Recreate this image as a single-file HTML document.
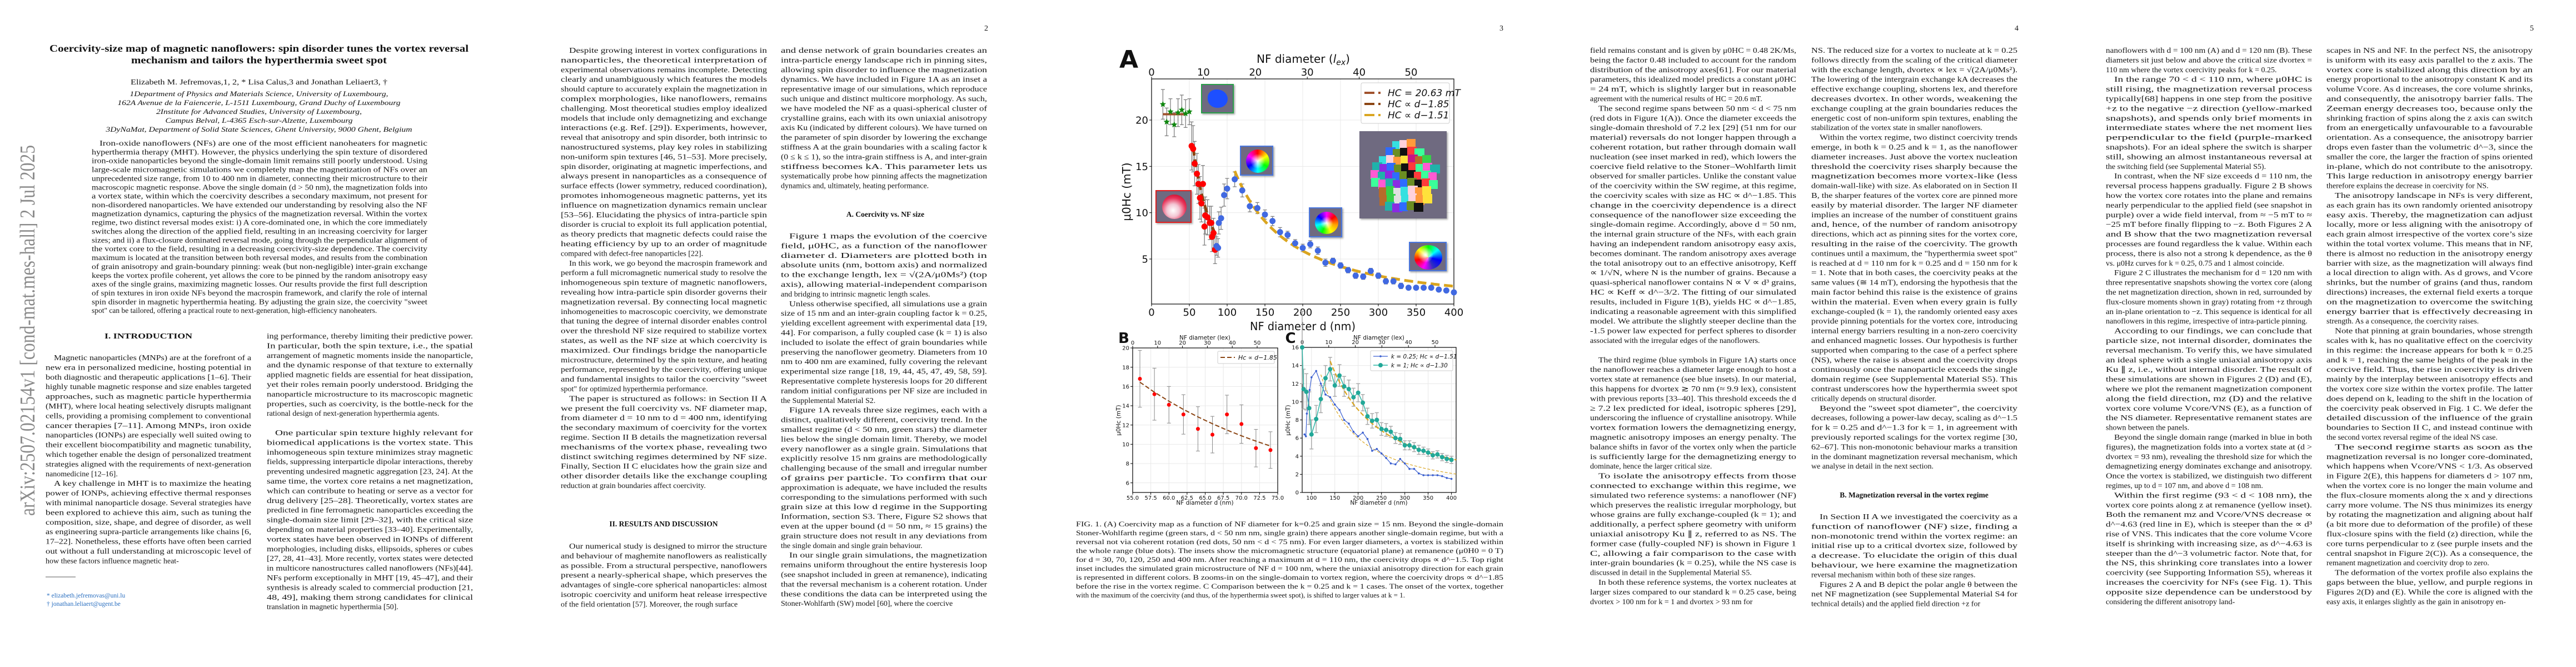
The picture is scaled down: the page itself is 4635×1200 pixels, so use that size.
<!DOCTYPE html>
<html><head><meta charset="utf-8">
<style>
html,body{margin:0;padding:0;background:#fff;}
#page{position:relative;width:4635px;height:1200px;overflow:hidden;background:#fff;}
#root{position:absolute;left:0;top:0;}
.inset{position:absolute;box-sizing:border-box;background:#6f6a80;overflow:hidden;box-shadow:2px 2px 3px rgba(0,0,0,0.35);}
.blob{position:absolute;border-radius:50%;}
</style></head>
<body>
<div id="page">
<svg id="root" width="4635" height="1200" xmlns="http://www.w3.org/2000/svg">
  <g id="text-layer"></g>
  <g id="fig"></g>
</svg>

<!-- insets in panel A -->
<div class="inset" style="left:2161px;top:151px;width:59px;height:53px;border:2px solid #2aa04a;">
  <div class="blob" style="left:10px;top:8px;width:36px;height:33px;background:#1d4fff;border-radius:45% 55% 50% 50%;"></div>
</div>
<div class="inset" style="left:2079px;top:342px;width:65px;height:59px;border:2px solid #e01e1e;">
  <div class="blob" style="left:10px;top:6px;width:44px;height:44px;background:radial-gradient(circle at 45% 65%,#fff 0,#f3c6d4 30%,#e8345a 60%,#d01030 80%);"></div>
</div>
<div class="inset" style="left:2231px;top:262px;width:60px;height:54px;border:2px solid #4a78e0;">
  <div class="blob" style="left:9px;top:5px;width:42px;height:42px;background:radial-gradient(circle,#fff 0,rgba(255,255,255,0) 45%),conic-gradient(red,yellow,lime,cyan,blue,magenta,red);"></div>
</div>
<div class="inset" style="left:2355px;top:373px;width:60px;height:54px;border:2px solid #4a78e0;">
  <div class="blob" style="left:9px;top:6px;width:42px;height:40px;background:radial-gradient(circle,#fff 0,rgba(255,255,255,0) 40%),conic-gradient(magenta,red,orange,yellow,lime,cyan,blue,magenta);"></div>
</div>
<div class="inset" style="left:2535px;top:435px;width:68px;height:53px;border:2px solid #4a78e0;">
  <div class="blob" style="left:8px;top:4px;width:50px;height:44px;background:radial-gradient(circle at 40% 40%,#fff 0,rgba(255,255,255,0) 35%),conic-gradient(lime,cyan,blue,#3030c0,magenta,red,yellow,lime);"></div>
</div>
<div class="inset" id="grain-inset" style="left:2446px;top:236px;width:157px;height:157px;"></div>
</div>

<script>
const NS='http://www.w3.org/2000/svg';
const root=document.getElementById('root');
const textLayer=document.getElementById('text-layer');
const fig=document.getElementById('fig');
const cv=document.createElement('canvas');
const ctx=cv.getContext('2d');

function mk(tag,attrs,parent){
  const el=document.createElementNS(NS,tag);
  for(const k in attrs){el.setAttribute(k,attrs[k]);}
  (parent||root).appendChild(el);
  return el;
}
function txt(parent,x,y,s,size,opts,name){
  opts=opts||{};
  const el=mk('text',{x:x,y:y,'font-size':size,'font-family':opts.family||'"Liberation Serif", serif',fill:opts.fill||'#111'},parent);
  if(opts.anchor){el.setAttribute('text-anchor',opts.anchor);}
  if(opts.weight){el.setAttribute('font-weight',opts.weight);}
  if(opts.style){el.setAttribute('font-style',opts.style);}
  if(opts.len){el.setAttribute('textLength',opts.len);el.setAttribute('lengthAdjust','spacingAndGlyphs');}
  if(opts.transform){el.setAttribute('transform',opts.transform);}
  el.textContent=s;
  
  
  return el;
}

/* ---------- paragraph layout ---------- */
const FS=14, PITCH=17.4;
function greedy(ws,sp,W,indent){
  const lines=[];let cur=[];let cw=0;
  for(let i=0;i<ws.length;i++){
    const cap=lines.length===0?W-indent:W;
    const add=cur.length?sp+ws[i]:ws[i];
    if(cur.length&&cw+add>cap){lines.push(cur);cur=[i];cw=ws[i];}
    else{cur.push(i);cw+=add;}
  }
  if(cur.length)lines.push(cur);
  return lines;
}
function para(x,y,w,text,n,indent,fs,pitch,name){
  fs=fs||FS;pitch=pitch||PITCH;
  const words=text.split(/\s+/).filter(s=>s.length);
  ctx.font=fs+'px "Liberation Serif"';
  const ws=words.map(s=>ctx.measureText(s).width);
  const sp=ctx.measureText(' ').width;
  let lo=5,hi=200000;
  for(let k=0;k<50;k++){const mid=(lo+hi)/2;if(greedy(ws,sp,mid,indent).length<=n)hi=mid;else lo=mid;}
  const lines=greedy(ws,sp,hi,indent);
  const g=mk('g',{},textLayer);
  
  
  lines.forEach((ln,i)=>{
    const s=ln.map(j=>words[j]).join(' ');
    const ind=i===0?indent:0;
    const el=mk('text',{x:x+ind,y:(y+i*pitch).toFixed(1),'font-size':fs,'font-family':'"Liberation Serif", serif',fill:'#161616'},g);
    const nat=ctx.measureText(s).width;
    if(i<lines.length-1||nat>w-ind){el.setAttribute('textLength',(w-ind).toFixed(1));el.setAttribute('lengthAdjust','spacingAndGlyphs');}
    el.textContent=s;
    
    
  });
  return y+n*pitch;
}
function heading(cx,y,s,fs,name){
  return txt(textLayer,cx,y,s,fs||13.5,{anchor:'middle',weight:'bold'},name||'section-heading');
}
function flow(x,y,w,blocks,nameBase){
  let cy=y;
  blocks.forEach((b,i)=>{cy=para(x,cy,w,b[1],b[0],b.length>2?b[2]:15,FS,PITCH,nameBase+'-p'+(i+1));});
  return cy;
}
const CW=371;

/* ================= PAGE 1 ================= */
txt(textLayer,62,928,'arXiv:2507.02154v1  [cond-mat.mes-hall]  2 Jul 2025',38,{fill:'#8a8a8a',len:667,transform:'rotate(-90 62 928)'},'arxiv-stamp');
txt(textLayer,466,93,'Coercivity-size map of magnetic nanoflowers: spin disorder tunes the vortex reversal',18,{anchor:'middle',weight:'bold',len:754},'paper-title-line-1');
txt(textLayer,466,114,'mechanism and tailors the hyperthermia sweet spot',18,{anchor:'middle',weight:'bold',len:460},'paper-title-line-2');
txt(textLayer,466,152,'Elizabeth M. Jefremovas,1, 2, * Lisa Calus,3 and Jonathan Leliaert3, †',14,{anchor:'middle',len:462},'authors');
const aff=[[173,'1Department of Physics and Materials Science, University of Luxembourg,',465],
 [189,'162A Avenue de la Faiencerie, L-1511 Luxembourg, Grand Duchy of Luxembourg',509],
 [205,'2Institute for Advanced Studies, University of Luxembourg,',370],
 [221,'Campus Belval, L-4365 Esch-sur-Alzette, Luxembourg',337],
 [237,'3DyNaMat, Department of Solid State Sciences, Ghent University, 9000 Ghent, Belgium',551]];
aff.forEach((a,i)=>txt(textLayer,466,a[0],a[1],13,{anchor:'middle',style:'italic',len:a[2]},'affiliation-'+(i+1)));
para(165,262,604,'Iron-oxide nanoflowers (NFs) are one of the most efficient nanoheaters for magnetic hyperthermia therapy (MHT). However, the physics underlying the spin texture of disordered iron-oxide nanoparticles beyond the single-domain limit remains still poorly understood. Using large-scale micromagnetic simulations we completely map the magnetization of NFs over an unprecedented size range, from 10 to 400 nm in diameter, connecting their microstructure to their macroscopic magnetic response. Above the single domain (d > 50 nm), the magnetization folds into a vortex state, within which the coercivity describes a secondary maximum, not present for non-disordered nanoparticles. We have extended our understanding by resolving also the NF magnetization dynamics, capturing the physics of the magnetization reversal. Within the vortex regime, two distinct reversal modes exist: i) A core-dominated one, in which the core immediately switches along the direction of the applied field, resulting in an increasing coercivity for larger sizes; and ii) a flux-closure dominated reversal mode, going through the perpendicular alignment of the vortex core to the field, resulting in a decreasing coercivity-size dependence. The coercivity maximum is located at the transition between both reversal modes, and results from the combination of grain anisotropy and grain-boundary pinning: weak (but non-negligible) inter-grain exchange keeps the vortex profile coherent, yet allows the core to be pinned by the random anisotropy easy axes of the single grains, maximizing magnetic losses. Our results provide the first full description of spin textures in iron oxide NFs beyond the macrospin framework, and clarify the role of internal spin disorder in magnetic hyperthermia heating. By adjusting the grain size, the coercivity "sweet spot" can be tailored, offering a practical route to next-generation, high-efficiency nanoheaters.',20,14,13.5,15.85,'abstract');
txt(textLayer,267,609,'I.   INTRODUCTION',13.5,{anchor:'middle',weight:'bold',len:158},'heading-introduction');
flow(82,648,370,[
 [13,'Magnetic nanoparticles (MNPs) are at the forefront of a new era in personalized medicine, hosting potential in both diagnostic and therapeutic applications [1–6]. Their highly tunable magnetic response and size enables targeted approaches, such as magnetic particle hyperthermia (MHT), where local heating selectively disrupts malignant cells, providing a promising complement to conventional cancer therapies [7–11]. Among MNPs, iron oxide nanoparticles (IONPs) are especially well suited owing to their excellent biocompatibility and magnetic tunability, which together enable the design of personalized treatment strategies aligned with the requirements of next-generation nanomedicine [12–16].'],
 [9,'A key challenge in MHT is to maximize the heating power of IONPs, achieving effective thermal responses with minimal nanoparticle dosage. Several strategies have been explored to achieve this aim, such as tuning the composition, size, shape, and degree of disorder, as well as engineering supra-particle arrangements like chains [6, 17–22]. Nonetheless, these efforts have often been carried out without a full understanding at microscopic level of how these factors influence magnetic heat-']
],'p1-left');
flow(480,609,CW,[
 [9,'ing performance, thereby limiting their predictive power. In particular, both the spin texture, i.e., the spatial arrangement of magnetic moments inside the nanoparticle, and the dynamic response of that texture to externally applied magnetic fields are essential for heat dissipation, yet their roles remain poorly understood. Bridging the nanoparticle microstructure to its macroscopic magnetic properties, such as coercivity, is the bottle-neck for the rational design of next-generation hyperthermia agents.',0]
],'p1-right-a');
flow(480,783,CW,[
 [19,'One particular spin texture highly relevant for biomedical applications is the vortex state. This inhomogeneous spin texture minimizes stray magnetic fields, suppressing interparticle dipolar interactions, thereby preventing undesired magnetic aggregation [23, 24]. At the same time, the vortex core retains a net magnetization, which can contribute to heating or serve as a vector for drug delivery [25–28]. Theoretically, vortex states are predicted in fine ferromagnetic nanoparticles exceeding the single-domain size limit [29–32], with the critical size depending on material properties [33–40]. Experimentally, vortex states have been observed in IONPs of different morphologies, including disks, ellipsoids, spheres or cubes [27, 28, 41–43]. More recently, vortex states were detected in multicore nanostructures called nanoflowers (NFs)[44]. NFs perform exceptionally in MHT [19, 45–47], and their synthesis is already scaled to commercial production [21, 48, 49], making them strong candidates for clinical translation in magnetic hyperthermia [50].']
],'p1-right-b');
(function(){const l=mk('line',{x1:82,y1:1038,x2:136,y2:1038,stroke:'#222','stroke-width':0.8},textLayer);

})();
txt(textLayer,84,1075,'* elizabeth.jefremovas@uni.lu',11.5,{fill:'#2a6fc0'},'footnote-email-1');
txt(textLayer,84,1090,'† jonathan.leliaert@ugent.be',11.5,{fill:'#2a6fc0'},'footnote-email-2');

/* ================= PAGE 2 ================= */
txt(textLayer,1778,55,'2',14,{anchor:'end'},'page-number-2');
flow(1009,95,CW,[
 [22,'Despite growing interest in vortex configurations in nanoparticles, the theoretical interpretation of experimental observations remains incomplete. Detecting clearly and unambiguously which features the models should capture to accurately explain the magnetization in complex morphologies, like nanoflowers, remains challenging. Most theoretical studies employ idealized models that include only demagnetizing and exchange interactions (e.g. Ref. [29]). Experiments, however, reveal that anisotropy and spin disorder, both intrinsic to nanostructured systems, play key roles in stabilizing non-uniform spin textures [46, 51–53]. More precisely, spin disorder, originating at magnetic imperfections, and always present in nanoparticles as a consequence of surface effects (lower symmetry, reduced coordination), promotes inhomogeneous magnetic patterns, yet its influence on magnetization dynamics remain unclear [53–56]. Elucidating the physics of intra-particle spin disorder is crucial to exploit its full application potential, as theory predicts that magnetic defects could raise the heating efficiency by up to an order of magnitude compared with defect-free nanoparticles [22].'],
 [14,'In this work, we go beyond the macrospin framework and perform a full micromagnetic numerical study to resolve the inhomogeneous spin texture of magnetic nanoflowers, revealing how intra-particle spin disorder governs their magnetization reversal. By connecting local magnetic inhomogeneities to macroscopic coercivity, we demonstrate that tuning the degree of internal disorder enables control over the threshold NF size required to stabilize vortex states, as well as the NF size at which coercivity is maximized. Our findings bridge the nanoparticle microstructure, determined by the spin texture, and heating performance, represented by the coercivity, offering unique and fundamental insights to tailor the coercivity "sweet spot" for optimized hyperthermia performance.'],
 [10,'The paper is structured as follows: in Section II A we present the full coercivity vs. NF diameter map, from diameter d = 10 nm to d = 400 nm, identifying the secondary maximum of coercivity for the vortex regime. Section II B details the magnetization reversal mechanisms of the vortex phase, revealing two distinct switching regimes determined by NF size. Finally, Section II C elucidates how the grain size and other disorder details like the exchange coupling reduction at grain boundaries affect coercivity.']
],'p2-left');
heading(1194,947,'II.   RESULTS AND DISCUSSION',13.5,'heading-results');
flow(1009,987,CW,[
 [7,'Our numerical study is designed to mirror the structure and behaviour of maghemite nanoflowers as realistically as possible. From a structural perspective, nanoflowers present a nearly-spherical shape, which preserves the advantages of single-core spherical nanoparticles: almost isotropic coercivity and uniform heat release irrespective of the field orientation [57]. Moreover, the rough surface']
],'p2-left-b');
flow(1405,95,CW,[
 [15,'and dense network of grain boundaries creates an intra-particle energy landscape rich in pinning sites, allowing spin disorder to influence the magnetization dynamics. We have included in Figure 1A as an inset a representative image of our simulations, which reproduce such unique and distinct multicore morphology. As such, we have modeled the NF as a quasi-spherical cluster of crystalline grains, each with its own uniaxial anisotropy axis Ku (indicated by different colours). We have turned on the parameter of spin disorder by lowering the exchange stiffness A at the grain boundaries with a scaling factor k (0 ≤ k ≤ 1), so the intra-grain stiffness is A, and inter-grain stiffness becomes kA. This parameter lets us systematically probe how pinning affects the magnetization dynamics and, ultimately, heating performance.',0]
],'p2-right');
heading(1593,390,'A.   Coercivity vs. NF size',13.5,'heading-coercivity-vs-size');
flow(1405,429,CW,[
 [7,'Figure 1 maps the evolution of the coercive field, μ0HC, as a function of the nanoflower diameter d. Diameters are plotted both in absolute units (nm, bottom axis) and normalized to the exchange length, lex = √(2A/μ0Ms²) (top axis), allowing material-independent comparison and bridging to intrinsic magnetic length scales.'],
 [11,'Unless otherwise specified, all simulations use a grain size of 15 nm and an inter-grain coupling factor k = 0.25, yielding excellent agreement with experimental data [19, 44]. For comparison, a fully coupled case (k = 1) is also included to isolate the effect of grain boundaries while preserving the nanoflower geometry. Diameters from 10 nm to 400 nm are examined, fully covering the relevant experimental size range [18, 19, 44, 45, 47, 49, 58, 59]. Representative complete hysteresis loops for 20 different random initial configurations per NF size are included in the Supplemental Material S2.'],
 [15,'Figure 1A reveals three size regimes, each with a distinct, qualitatively different, coercivity trend. In the smallest regime (d < 50 nm, green stars) the diameter lies below the single domain limit. Thereby, we model every nanoflower as a single grain. Simulations that explicitly resolve 15 nm grains are methodologically challenging because of the small and irregular number of grains per particle. To confirm that our approximation is adequate, we have included the results corresponding to the simulations performed with such grain size at this low d regime in the Supporting Information, section S3. There, Figure S2 shows that even at the upper bound (d = 50 nm, ≈ 15 grains) the grain structure does not result in any deviations from the single domain and single grain behaviour.'],
 [6,'In our single grain simulations, the magnetization remains uniform throughout the entire hysteresis loop (see snapshot included in green at remanence), indicating that the reversal mechanism is a coherent rotation. Under these conditions the data can be interpreted using the Stoner-Wohlfarth (SW) model [60], where the coercive']
],'p2-right-b');

/* ================= PAGE 3 ================= */
txt(textLayer,2705,55,'3',14,{anchor:'end'},'page-number-3');
para(1936,947,769,'FIG. 1. (A) Coercivity map as a function of NF diameter for k=0.25 and grain size = 15 nm. Beyond the single-domain Stoner-Wohlfarth regime (green stars, d < 50 nm nm, single grain) there appears another single-domain regime, but with a reversal not via coherent rotation (red dots, 50 nm < d < 75 nm). For even larger diameters, a vortex is stabilized within the whole range (blue dots). The insets show the micromagnetic structure (equatorial plane) at remanence (μ0H0 = 0 T) for d = 30, 70, 120, 250 and 400 nm. After reaching a maximum at d = 110 nm, the coercivity drops ∝ d^−1.5. Top right inset includes the simulated grain microstructure of NF d = 100 nm, where the uniaxial anisotropy direction for each grain is represented in different colors. B zooms-in on the single-domain to vortex region, where the coercivity drops ∝ d^−1.85 before the rise in the vortex regime. C Comparison between the k = 0.25 and k = 1 cases. The onset of the vortex, together with the maximum of the coercivity (and thus, of the hyperthermia sweet spot), is shifted to larger values at k = 1.',9,0,13,16,'figure-caption');

/* ================= PAGE 4 ================= */
txt(textLayer,3632,55,'4',14,{anchor:'end'},'page-number-4');
flow(2861,95,CW,[
 [6,'field remains constant and is given by μ0HC = 0.48 2K/Ms, being the factor 0.48 included to account for the random distribution of the anisotropy axes[61]. For our material parameters, this idealized model predicts a constant μ0HC = 24 mT, which is slightly larger but in reasonable agreement with the numerical results of HC = 20.6 mT.',0],
 [25,'The second regime spans between 50 nm < d < 75 nm (red dots in Figure 1(A)). Once the diameter exceeds the single-domain threshold of 7.2 lex [29] (51 nm for our material) reversals do not longer happen through a coherent rotation, but rather through domain wall nucleation (see inset marked in red), which lowers the coercive field relative to the Stoner–Wohlfarth limit observed for smaller particles. Unlike the constant value of the coercivity within the SW regime, at this regime, the coercivity scales with size as HC ∝ d^−1.85. This change in the coercivity dependence is a direct consequence of the nanoflower size exceeding the single-domain regime. Accordingly, above d = 50 nm, the internal grain structure of the NFs, with each grain having an independent random anisotropy easy axis, becomes dominant. The random anisotropy axes average the total anisotropy out to an effective anisotropy, Keff ∝ 1/√N, where N is the number of grains. Because a quasi-spherical nanoflower contains N ∝ V ∝ d³ grains, HC ∝ Keff ∝ d^−3/2. The fitting of our simulated results, included in Figure 1(B), yields HC ∝ d^−1.85, indicating a reasonable agreement with this simplified model. We attribute the slightly steeper decline than the -1.5 power law expected for perfect spheres to disorder associated with the irregular edges of the nanoflowers.']
],'p4-left');
flow(2861,95+32*PITCH,CW,[
 [12,'The third regime (blue symbols in Figure 1A) starts once the nanoflower reaches a diameter large enough to host a vortex state at remanence (see blue insets). In our material, this happens for dvortex ≳ 70 nm (≈ 9.9 lex), consistent with previous reports [33–40]. This threshold exceeds the d ≥ 7.2 lex predicted for ideal, isotropic spheres [29], underscoring the influence of crystalline anisotropy. While vortex formation lowers the demagnetizing energy, magnetic anisotropy imposes an energy penalty. The balance shifts in favor of the vortex only when the particle is sufficiently large for the demagnetizing energy to dominate, hence the larger critical size.'],
 [11,'To isolate the anisotropy effects from those connected to exchange within this regime, we simulated two reference systems: a nanoflower (NF) which preserves the realistic irregular morphology, but whose grains are fully exchange-coupled (k = 1); and additionally, a perfect sphere geometry with uniform uniaxial anisotropy Ku ∥ z, referred to as NS. The former case (fully-coupled NF) is shown in Figure 1 C, allowing a fair comparison to the case with inter-grain boundaries (k = 0.25), while the NS case is discussed in detail in the Supplemental Material S5.'],
 [3,'In both these reference systems, the vortex nucleates at larger sizes compared to our standard k = 0.25 case, being dvortex > 100 nm for k = 1 and dvortex > 93 nm for']
],'p4-left-b');
flow(3259,95,CW,[
 [9,'NS. The reduced size for a vortex to nucleate at k = 0.25 follows directly from the scaling of the critical diameter with the exchange length, dvortex ∝ lex = √(2A/μ0Ms²). The lowering of the intergrain exchange kA decreases the effective exchange coupling, shortens lex, and therefore decreases dvortex. In other words, weakening the exchange coupling at the grain boundaries reduces the energetic cost of non-uniform spin textures, enabling the stabilization of the vortex state in smaller nanoflowers.',0],
 [28,'Within the vortex regime, two distinct coercivity trends emerge, in both k = 0.25 and k = 1, as the nanoflower diameter increases. Just above the vortex nucleation threshold the coercivity rises sharply because the magnetization becomes more vortex-like (less domain-wall-like) with size. As elaborated on in Section II B, the sharper features of the vortex core are pinned more easily by material disorder. The larger NF diameter implies an increase of the number of constituent grains and, hence, of the number of random anisotropy directions, which act as pinning sites for the vortex core, resulting in the raise of the coercivity. The growth continues until a maximum, the "hyperthermia sweet spot" is reached at d = 110 nm for k = 0.25 and d = 150 nm for k = 1. Note that in both cases, the coercivity peaks at the same values (≅ 14 mT), endorsing the hypothesis that the main factor behind this raise is the existence of grains within the material. Even when every grain is fully exchange-coupled (k = 1), the randomly oriented easy axes provide pinning potentials for the vortex core, introducing internal energy barriers resulting in a non-zero coercivity and enhanced magnetic losses. Our hypothesis is further supported when comparing to the case of a perfect sphere (NS), where the raise is absent and the coercivity drops continuously once the nanoparticle exceeds the single domain regime (see Supplemental Material S5). This contrast underscores how the hyperthermia sweet spot critically depends on structural disorder.'],
 [7,'Beyond the "sweet spot diameter", the coercivity decreases, following a power-law decay, scaling as d^−1.5 for k = 0.25 and d^−1.3 for k = 1, in agreement with previously reported scalings for the vortex regime [30, 62–67]. This non-monotonic behaviour marks a transition in the dominant magnetization reversal mechanism, which we analyse in detail in the next section.']
],'p4-right');
heading(3444,895,'B.   Magnetization reversal in the vortex regime',13.5,'heading-magnetization-reversal');
flow(3259,934,CW,[
 [7,'In Section II A we investigated the coercivity as a function of nanoflower (NF) size, finding a non-monotonic trend within the vortex regime: an initial rise up to a critical dvortex size, followed by a decrease. To elucidate the origin of this dual behaviour, we here examine the magnetization reversal mechanism within both of these size ranges.'],
 [3,'Figures 2 A and B depict the polar angle θ between the net NF magnetization (see Supplemental Material S4 for technical details) and the applied field direction +z for']
],'p4-right-b');

/* ================= PAGE 5 ================= */
txt(textLayer,4559,55,'5',14,{anchor:'end'},'page-number-5');
flow(3789,95,CW,[
 [3,'nanoflowers with d = 100 nm (A) and d = 120 nm (B). These diameters sit just below and above the critical size dvortex = 110 nm where the vortex coercivity peaks for k = 0.25.',0],
 [10,'In the range 70 < d < 110 nm, where μ0HC is still rising, the magnetization reversal process typically[68] happens in one step from the positive +z to the negative −z direction (yellow-marked snapshots), and spends only brief moments in intermediate states where the net moment lies perpendicular to the field (purple-marked snapshots). For an ideal sphere the switch is sharper still, showing an almost instantaneous reversal at the switching field (see Supplemental Material S5).'],
 [10,'In contrast, when the NF size exceeds d = 110 nm, the reversal process happens gradually. Figure 2 B shows how the vortex core rotates into the plane and remains nearly perpendicular to the applied field (see snapshot in purple) over a wide field interval, from ≈ −5 mT to ≈ −25 mT before finally flipping to −z. Both Figures 2 A and B show that the two magnetization reversal processes are found regardless the k value. Within each process, there is also not a strong k dependence, as the θ vs. μ0Hz curves for k = 0.25, 0.75 and 1 almost coincide.'],
 [6,'Figure 2 C illustrates the mechanism for d = 120 nm with three representative snapshots showing the vortex core (along the net magnetization direction, shown in red, surrounded by flux-closure moments shown in gray) rotating from +z through an in-plane orientation to −z. This sequence is identical for all nanoflowers in this regime, irrespective of intra-particle pinning.'],
 [11,'According to our findings, we can conclude that particle size, not internal disorder, dominates the reversal mechanism. To verify this, we have simulated an ideal sphere with a single uniaxial anisotropy axis Ku ∥ z, i.e., without internal disorder. The result of these simulations are shown in Figures 2 (D) and (E), where we plot the remanent magnetization component along the field direction, mz (D) and the relative vortex core volume Vcore/VNS (E), as a function of the NS diameter. Representative remanent states are shown between the panels.'],
 [6,'Beyond the single domain range (marked in blue in both figures), the magnetization folds into a vortex state at (d > dvortex = 93 nm), revealing the threshold size for which the demagnetizing energy dominates exchange and anisotropy. Once the vortex is stabilized, we distinguish two different regimes, up to d = 107 nm, and above d = 108 nm.'],
 [12,'Within the first regime (93 < d < 108 nm), the vortex core points along z at remanence (yellow inset). Both the remanent mz and Vcore/VNS decrease ∝ d^−4.63 (red line in E), which is steeper than the ∝ d³ rise of VNS. This indicates that the core volume Vcore itself is shrinking with increasing size, as d^−4.63 is steeper than the d^−3 volumetric factor. Note that, for the NS, this shrinking core translates into a lower coercivity (see Supporting Information S5), whereas it increases the coercivity for NFs (see Fig. 1). This opposite size dependence can be understood by considering the different anisotropy land-']
],'p5-left');
flow(4186,95,CW,[
 [15,'scapes in NS and NF. In the perfect NS, the anisotropy is uniform with its easy axis parallel to the z axis. The vortex core is stabilized along this direction by an energy proportional to the anisotropy constant K and its volume Vcore. As d increases, the core volume shrinks, and consequently, the anisotropy barrier falls. The Zeeman energy decreases too, because only the shrinking fraction of spins along the z axis can switch from an energetically unfavourable to a favourable orientation. As a consequence, the anisotropy barrier drops even faster than the volumetric d^−3, since the smaller the core, the larger the fraction of spins oriented in-plane, which do not contribute to the anisotropy. This large reduction in anisotropy energy barrier therefore explains the decrease in coercivity for NS.',0],
 [14,'The anisotropy landscape in NFs is very different, as each grain has its own randomly oriented anisotropy easy axis. Thereby, the magnetization can adjust locally, more or less aligning with the anisotropy of each grain almost irrespective of the vortex core\u2019s size within the total vortex volume. This means that in NF, there is almost no reduction in the anisotropy energy barrier with size, as the magnetization will always find a local direction to align with. As d grows, and Vcore shrinks, but the number of grains (and thus, random directions) increases, the external field exerts a torque on the magnetization to overcome the switching energy barrier that is effectively decreasing in strength. As a consequence, the coercivity raises.'],
 [12,'Note that pinning at grain boundaries, whose strength scales with k, has no qualitative effect on the coercivity in this regime: the increase appears for both k = 0.25 and k = 1, reaching the same heights of the peak in the coercive field. Thus, the rise in coercivity is driven mainly by the interplay between anisotropy effects and the vortex core size within the vortex profile. The latter does depend on k, leading to the shift in the location of the coercivity peak observed in Fig. 1 C. We defer the detailed discussion of the influence of the grain boundaries to Section II C, and instead continue with the second vortex reversal regime of the ideal NS case.'],
 [13,'The second regime starts as soon as the magnetization reversal is no longer core-dominated, which happens when Vcore/VNS < 1/3. As observed in Figure 2(E), this happens for diameters d > 107 nm, when the vortex core is no longer the main volume and the flux-closure moments along the x and y directions carry more volume. The NS thus minimizes its energy by rotating the magnetization and aligning about half (a bit more due to deformation of the profile) of these flux-closure spins with the field (z) direction, while the core turns perpendicular to z (see purple insets and the central snapshot in Figure 2(C)). As a consequence, the remanent magnetization and coercivity drop to zero.'],
 [4,'The deformation of the vortex profile also explains the gaps between the blue, yellow, and purple regions in Figures 2(D) and (E). While the core is aligned with the easy axis, it enlarges slightly as the gain in anisotropy en-']
],'p5-right');
</script>

<script>
/* ================= FIGURE 1 DATA ================= */
const starD=[15,20,25,30,35,40,45,50];
const starHc=[21.7,19.8,20.9,19.5,20.8,21.1,20.7,20.9];
const starErr=[1.6,1.5,1.4,1.3,1.5,1.6,1.5,1.4];
const redD=[53,55,57,60,62,64,66,68,70,71,74,77,79,80,82,84];
const redHc=[17.2,16.9,15.3,14.2,13.1,11.6,11.0,13.1,8.5,9.7,9.5,8.9,8.9,7.4,7.8,6.0];
const redErr=[2.6,2.5,2.4,2.2,2.1,2.3,2.0,2.0,2.0,2.0,1.9,1.8,1.8,1.6,1.6,1.5];
const blueD=[86,88,89,92,96,100,110,120,130,140,150,160,170,180,190,200,210,220,230,240,250,260,270,280,290,300,310,320,330,340,350,360,370,380,390,400];
const blueHc=[6.4,6.2,8.9,9.4,11.9,12.6,13.6,12.4,10.7,10.5,9.8,9.1,7.9,7.6,6.7,6.2,6.6,5.9,4.6,4.8,4.3,3.8,3.2,3.1,3.7,3.2,2.6,2.6,2.1,1.9,1.9,1.9,1.9,1.7,1.6,1.4];
const blueErr=[1.0,1.0,1.2,1.2,1.2,1.1,0.8,0.7,0.6,0.6,0.5,0.5,0.5,0.4,0.4,0.4,0.4,0.4,0.4,0.3,0.3,0.3,0.3,0.3,0.3,0.3,0.3,0.3,0.3,0.2,0.2,0.2,0.2,0.2,0.2,0.2];
const fitFlat=[20.63,15,45];          /* value, d from, d to */
const fit185=[17.0,55,-1.85,55,84];   /* amplitude, d0, exponent, from, to */
const fit151=[14.5,110,-1.51,110,400];
const ticksAx=[0,50,100,150,200,250,300,350,400];
const ticksAy=[5,10,15,20];
const ticksAtop=[0,10,20,30,40,50];

const bD=[56,58,60,62,64,66,68,70,72,74];
const bHc=[16.8,15.2,14.1,13.1,11.6,11.0,13.1,12.1,9.6,9.4];
const bErr=[2.95,2.7,1.9,2.05,2.3,1.9,2.0,2.0,1.95,1.9];
const ticksBx=[55,57.5,60,62.5,65,67.5,70,72.5,75];
const ticksBy=[6,8,10,12,14,16,18,20];
const ticksBtop=[0,10,20,30,40,50];

const c1D=[85,88,90,92,96,100,110,120,130,140,150,160,170,180,190,200,210,220,230,240,250,260,270,280,290,300,310,320,330,340,350,360,370,380,390,400];
const c1Hc=[6.4,6.2,8.7,9.3,11.3,12.7,13.4,12.0,10.8,10.5,9.7,9.1,8.0,7.6,6.7,6.2,6.6,5.9,4.6,4.8,4.3,3.8,3.2,3.1,3.7,3.2,2.6,2.6,2.1,1.9,1.9,1.9,1.9,1.8,1.6,1.5];
const c2D=[80,83,89,95,100,110,120,130,140,150,160,170,180,190,200,210,220,230,240,250,260,270,280,290,300,310,320,330,340,350,360,370,380,390,400];
const c2Hc=[16,11.4,11.1,9.3,6.4,8.1,10.3,12.6,13.6,11.8,12.9,11.7,11.4,10.5,11.0,9.9,8.4,7.9,8.0,7.0,6.9,6.7,6.0,5.9,5.2,5.2,5.0,4.7,4.6,4.4,4.1,4.2,3.9,3.7,3.6];
const c2Err=[4,2.2,2.0,1.8,1.6,1.5,1.5,1.4,1.3,1.2,1.2,1.1,1.0,1.0,1.0,0.9,0.9,0.8,0.8,0.7,0.7,0.6,0.6,0.6,0.5,0.5,0.5,0.5,0.4,0.4,0.4,0.4,0.4,0.4,0.4];
const fitC1=[13.0,120,-1.51,120,410];
const fitC2=[14.5,140,-1.30,140,410];
const ticksCx=[100,150,200,250,300,350,400];
const ticksCy=[0,2,4,6,8,10,12,14,16];
const ticksCtop=[0,10,20,30,40,50];

function lin(d0,d1,r0,r1){return v=>r0+(v-d0)*(r1-r0)/(d1-d0);}
const SANS='"DejaVu Sans", "Liberation Sans", sans-serif';

/* ---- panel A scales ---- */
const xA=lin(0,400,2072,2616), yA=lin(5,20,466,216), xAtop=lin(0,50,2072,2539);
const A={l:2072,r:2616,t:142,b:547};
function panelFrame(P,xs,ys,xt,tx,ty,tt,fs,fmtX,name){
  const g=mk('g',{},fig);
  
  
  tx.forEach(v=>{const X=xs(v);if(X<P.l-1||X>P.r+1)return;
    const gl=mk('line',{x1:X,y1:P.t,x2:X,y2:P.b,stroke:'#e8e8e8','stroke-width':1},g);
    
    
    mk('line',{x1:X,y1:P.b,x2:X,y2:P.b+4,stroke:'#000'},g);
    txt(g,X,P.b+fs+3,fmtX(v),fs,{anchor:'middle',family:SANS},'x-tick-label');});
  ty.forEach(v=>{const Y=ys(v);
    const gl=mk('line',{x1:P.l,y1:Y,x2:P.r,y2:Y,stroke:'#e8e8e8','stroke-width':1},g);
    
    
    mk('line',{x1:P.l-4,y1:Y,x2:P.l,y2:Y,stroke:'#000'},g);
    txt(g,P.l-6,Y+fs*0.36,String(v),fs,{anchor:'end',family:SANS},'y-tick-label');});
  tt.forEach(v=>{const X=xt(v);
    mk('line',{x1:X,y1:P.t,x2:X,y2:P.t-4,stroke:'#000'},g);
    txt(g,X,P.t-6,String(v),fs,{anchor:'middle',family:SANS},'top-tick-label');});
  const box=mk('rect',{x:P.l,y:P.t,width:P.r-P.l,height:P.b-P.t,fill:'none',stroke:'#000','stroke-width':1.2},g);
  
  
  return g;
}
function errbars(g,xs,ys,D,H,E,color,w){
  D.forEach((d,i)=>{const X=xs(d);
    const e=mk('line',{x1:X,y1:ys(H[i]-E[i]),x2:X,y2:ys(H[i]+E[i]),stroke:color,'stroke-width':w||1.2},g);
    
    
    mk('line',{x1:X-3.5,y1:ys(H[i]-E[i]),x2:X+3.5,y2:ys(H[i]-E[i]),stroke:color,'stroke-width':w||1.2},g);
    mk('line',{x1:X-3.5,y1:ys(H[i]+E[i]),x2:X+3.5,y2:ys(H[i]+E[i]),stroke:color,'stroke-width':w||1.2},g);});
}
function dots(g,xs,ys,D,H,color,r,name){
  D.forEach((d,i)=>{const c=mk('circle',{cx:xs(d),cy:ys(H[i]),r:r,fill:color},g);
    
    });
}
function star(cx,cy,R){let p='';for(let k=0;k<10;k++){const a=-Math.PI/2+k*Math.PI/5;const rr=k%2?R*0.45:R;p+=(cx+rr*Math.cos(a)).toFixed(1)+','+(cy+rr*Math.sin(a)).toFixed(1)+' ';}return p;}
function powerPath(xs,ys,f){let p='';for(let d=f[3];d<=f[4]+0.01;d+=2){const v=f[0]*Math.pow(d/f[1],f[2]);p+=(p?'L':'M')+xs(d).toFixed(1)+','+ys(v).toFixed(1);}return p;}

/* ---- Panel A ---- */
const gA=panelFrame(A,xA,yA,xAtop,ticksAx,ticksAy,ticksAtop,18,v=>String(v),'panel-a');
txt(fig,2031,122,'A',44,{weight:'bold',family:SANS,anchor:'middle'},'panel-a-label');
txt(fig,2344,594,'NF diameter d (nm)',20,{anchor:'middle',family:SANS,len:190},'panel-a-x-axis-title');
(function(){const t=txt(fig,2345,113,'NF diameter (',20,{anchor:'middle',family:SANS},'panel-a-top-axis-title');
  const s1=mk('tspan',{'font-style':'italic'},t);s1.textContent='l';
  const s2=mk('tspan',{'font-style':'italic','font-size':14,dy:4},t);s2.textContent='ex';
  const s3=mk('tspan',{dy:-4},t);s3.textContent=')';})();
txt(fig,2034,345,'μ0Hc (mT)',20,{anchor:'middle',family:SANS,transform:'rotate(-90 2034 345)'},'panel-a-y-axis-title');
const sA=mk('g',{},fig);


errbars(sA,xA,yA,starD,starHc,starErr,'#777');
errbars(sA,xA,yA,redD,redHc,redErr,'#777');
errbars(sA,xA,yA,blueD,blueHc,blueErr,'#777');
(function(){
  const f1=mk('line',{x1:xA(fitFlat[1]),y1:yA(fitFlat[0]),x2:xA(fitFlat[2]),y2:yA(fitFlat[0]),stroke:'#a0522d','stroke-width':4},sA);
  
  
  const f2=mk('path',{d:powerPath(xA,yA,fit185),fill:'none',stroke:'#8b4513','stroke-width':5,'stroke-dasharray':'14,7'},sA);
  
  
  const f3=mk('path',{d:powerPath(xA,yA,fit151),fill:'none',stroke:'#daa520','stroke-width':5,'stroke-dasharray':'16,8'},sA);
  
  
})();
starD.forEach((d,i)=>{const s=mk('polygon',{points:star(xA(d),yA(starHc[i]),6),fill:'#118811'},sA);
  
  });
dots(sA,xA,yA,redD,redHc,'#ff0000',5.5,'dot-red-regime');
dots(sA,xA,yA,blueD,blueHc,'#4169e1',5.5,'dot-vortex-regime');
/* legend A */
(function(){
  const g=mk('g',{},fig);
  
  
  mk('rect',{x:2449,y:149,width:159,height:73,rx:3,fill:'#fff',stroke:'#ccc'},g);
  const items=[['HC = 20.63 mT','#a0522d'],['HC ∝ d−1.85','#8b4513'],['HC ∝ d−1.51','#daa520']];
  items.forEach((it,i)=>{const y=167+i*20;
    mk('line',{x1:2455,y1:y,x2:2488,y2:y,stroke:it[1],'stroke-width':4,'stroke-dasharray':'18,7,4,7'},g);
    txt(g,2497,y+6,it[0],17,{family:SANS,style:'italic'},'legend-entry');});
})();

/* ---- Panel B ---- */
const B={l:2038,r:2299,t:626,b:886};
const xB=lin(55,75,B.l,B.r), yB=lin(5,20,B.b,B.t), xBtop=lin(0,50,2038,2262);
panelFrame(B,xB,yB,xBtop,ticksBx,ticksBy,ticksBtop,10,v=>v.toFixed(1),'panel-b');
txt(fig,2022,617,'B',26,{weight:'bold',family:SANS,anchor:'middle'},'panel-b-label');
txt(fig,2168,908,'NF diameter d (nm)',10.5,{anchor:'middle',family:SANS},'panel-b-x-axis-title');
txt(fig,2168,611,'NF diameter (lex)',10.5,{anchor:'middle',family:SANS},'panel-b-top-axis-title');
txt(fig,2016,756,'μ0Hc (mT)',10.5,{anchor:'middle',family:SANS,transform:'rotate(-90 2016 756)'},'panel-b-y-axis-title');
const sB=mk('g',{},fig);


errbars(sB,xB,yB,bD,bHc,bErr,'#888',1);
(function(){const f=mk('path',{d:powerPath(xB,yB,[fit185[0],fit185[1],fit185[2],56,74]),fill:'none',stroke:'#8b4513','stroke-width':2,'stroke-dasharray':'8,4'},sB);
  
  })();
dots(sB,xB,yB,bD,bHc,'#ff0000',3.5,'dot-panel-b');
(function(){const g=mk('g',{},fig);
  
  
  mk('rect',{x:2191,y:632,width:102,height:22,rx:2,fill:'#fff',stroke:'#ccc'},g);
  mk('line',{x1:2196,y1:643,x2:2222,y2:643,stroke:'#8b4513','stroke-width':2,'stroke-dasharray':'8,4'},g);
  txt(g,2228,647,'Hc ∝ d−1.85',11,{family:SANS,style:'italic'},'legend-entry');})();

/* ---- Panel C ---- */
const C={l:2343,r:2620,t:625,b:886};
const xC=lin(80,410,C.l,C.r), yC=lin(0,16,C.b,C.t), xCtop=lin(0,50,2343,2582);
panelFrame(C,xC,yC,xCtop,ticksCx,ticksCy,ticksCtop,10,v=>String(v),'panel-c');
txt(fig,2322,617,'C',26,{weight:'bold',family:SANS,anchor:'middle'},'panel-c-label');
txt(fig,2481,908,'NF diameter d (nm)',10.5,{anchor:'middle',family:SANS},'panel-c-x-axis-title');
txt(fig,2481,611,'NF diameter (lex)',10.5,{anchor:'middle',family:SANS},'panel-c-top-axis-title');
txt(fig,2321,756,'μ0Hc (mT)',10.5,{anchor:'middle',family:SANS,transform:'rotate(-90 2321 756)'},'panel-c-y-axis-title');
const sC=mk('g',{},fig);


errbars(sC,xC,yC,c2D,c2Hc,c2Err,'#aaa',1.5);
(function(){
  const f1=mk('path',{d:powerPath(xC,yC,fitC1),fill:'none',stroke:'#daa520','stroke-width':1.2,'stroke-dasharray':'5,3'},sC);
  
  
  const f2=mk('path',{d:powerPath(xC,yC,fitC2),fill:'none',stroke:'#daa520','stroke-width':2.2,'stroke-dasharray':'8,4'},sC);
  
  
  const l1=mk('polyline',{points:c1D.map((d,i)=>xC(d).toFixed(1)+','+yC(c1Hc[i]).toFixed(1)).join(' '),fill:'none',stroke:'#3a5fd0','stroke-width':1.2},sC);
  
  
  const l2=mk('polyline',{points:c2D.map((d,i)=>xC(d).toFixed(1)+','+yC(c2Hc[i]).toFixed(1)).join(' '),fill:'none',stroke:'#2fb5a5','stroke-width':1.5},sC);
  
  
})();
dots(sC,xC,yC,c1D,c1Hc,'#3a5fd0',1.8,'point-k025');
dots(sC,xC,yC,c2D,c2Hc,'#22a898',4,'point-k1');
(function(){const g=mk('g',{},fig);
  
  
  mk('rect',{x:2466,y:631,width:148,height:36,rx:2,fill:'#fff',stroke:'#ccc'},g);
  mk('line',{x1:2471,y1:641,x2:2497,y2:641,stroke:'#3a5fd0','stroke-width':1.2},g);
  mk('circle',{cx:2484,cy:641,r:1.8,fill:'#3a5fd0'},g);
  txt(g,2503,645,'k = 0.25; Hc ∝ d−1.51',10.5,{family:SANS,style:'italic'},'legend-entry');
  mk('line',{x1:2471,y1:657,x2:2497,y2:657,stroke:'#2fb5a5','stroke-width':1.5},g);
  mk('circle',{cx:2484,cy:657,r:4,fill:'#22a898'},g);
  txt(g,2503,661,'k = 1; Hc ∝ d−1.30',10.5,{family:SANS,style:'italic'},'legend-entry');})();

/* ---- grain microstructure inset (decorative) ---- */
(function(){
  const host=document.getElementById('grain-inset');
  const pal=['#ff3b3b','#37d04a','#2f6bff','#ffe23b','#ff5ad2','#35e0e0','#111','#b86a2a','#8a2be2','#ff9a3b','#3bff9a','#e0e0e0','#6b8e23','#c71585','#20b2aa','#ffd1dc'];
  let k=0;
  for(let gy=0;gy<9;gy++){for(let gx=0;gx<9;gx++){
    const cx=gx-4,cy=gy-4.2;
    if(cx*cx+cy*cy>19)continue;
    const d=document.createElement('div');
    
    
    const col=pal[(gx*7+gy*11+k*3)%pal.length];k++;
    d.style.cssText='position:absolute;left:'+(20+gx*13+((gy*5)%4))+'px;top:'+(14+gy*14+((gx*3)%5))+'px;width:'+(15+(gx+gy)%4)+'px;height:'+(16+(gx*gy)%4)+'px;background:'+col+';';
    host.appendChild(d);
  }}
})();
</script>
</body></html>
